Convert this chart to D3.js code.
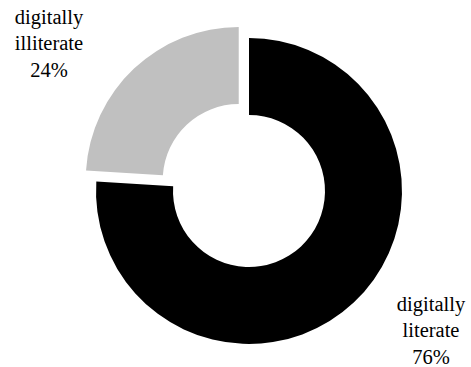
<!DOCTYPE html>
<meta charset="UTF-8">
<style>
  body { margin: 0; background: #fff; }
</style>
<svg width="471" height="367"></svg>
<script src="https://d3js.org/d3.v7.min.js"></script>
<script>

var categories = ["digitally literate", "digitally illiterate"];
var shares = [76, 24];
var labelLines = [["digitally", "literate", "76%"], ["digitally", "illiterate", "24%"]];
var colors = ["#000000", "#c0c0c0"];

var svg = d3.select("svg"),
    cx = 249, cy = 191,
    outer = 153, inner = 76,
    explode = 15;

var pie = d3.pie().sort(null).value(function(d) { return d; });
var arc = d3.arc().innerRadius(inner).outerRadius(outer);

var arcs = pie(shares);

var g = svg.append("g").attr("transform", "translate(" + cx + "," + cy + ")");

g.selectAll("path")
    .data(arcs)
    .enter().append("path")
    .attr("fill", function(d, i) { return colors[i]; })
    .attr("transform", function(d, i) {
        // pull the small slice out
        if (i === 0) return null;
        var a = (d.startAngle + d.endAngle) / 2;
        return "translate(" + (Math.sin(a) * explode) + "," + (-Math.cos(a) * explode) + ")";
    })
    .attr("d", arc);

// label anchors (centre of text block, first baseline)
var labelPos = [[431, 311], [49, 24]];

labelLines.forEach(function(lines, i) {
    var t = svg.append("text")
        .style("font-family", "Liberation Serif")
        .style("font-size", "20.5px")
        .attr("fill", "#000")
        .attr("text-anchor", "middle")
        .attr("x", labelPos[i][0])
        .attr("y", labelPos[i][1]);
    lines.forEach(function(s, j) {
        t.append("tspan")
            .attr("x", labelPos[i][0])
            .attr("dy", j === 0 ? 0 : 26.3)
            .text(s);
    });
});

</script>
